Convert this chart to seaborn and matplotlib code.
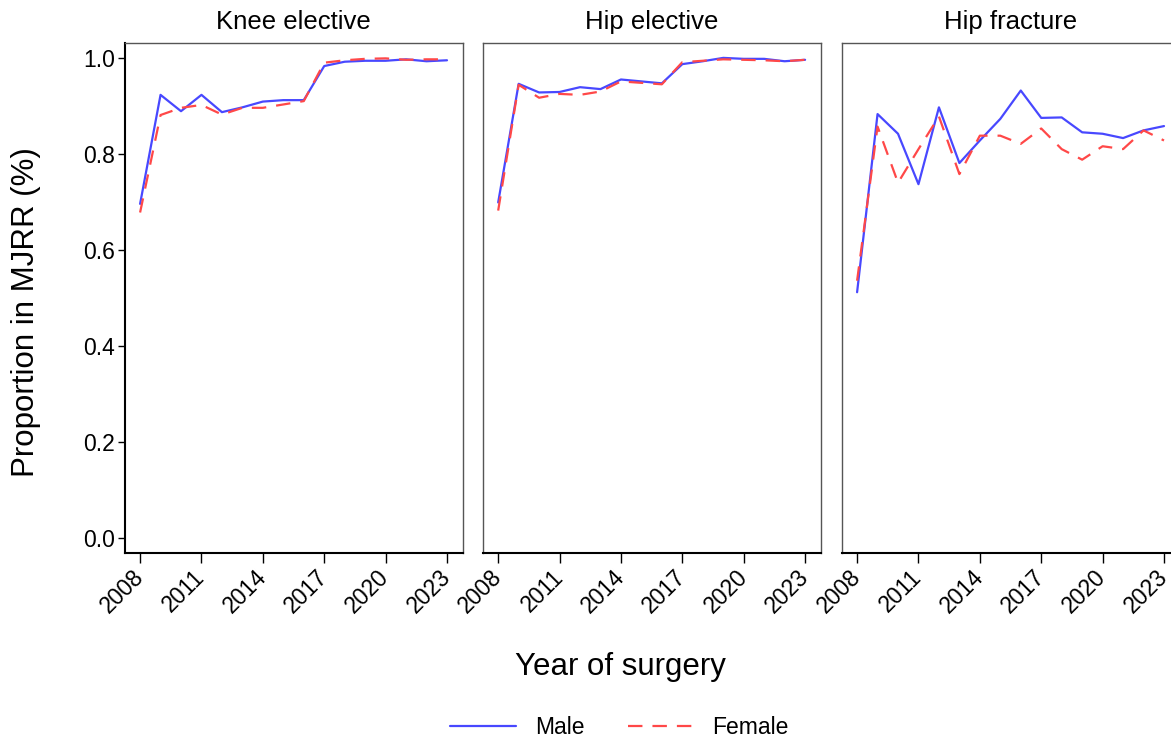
import pandas as pd
import numpy as np
import matplotlib
matplotlib.use('Agg')
import matplotlib.pyplot as plt
import seaborn as sns

# Values
years = list(range(2008, 2024))
panels = ['Knee elective', 'Hip elective', 'Hip fracture']

knee_male = [0.696, 0.923, 0.889, 0.923, 0.887, 0.897, 0.909, 0.912, 0.912,
             0.983, 0.992, 0.994, 0.994, 0.997, 0.993, 0.995]
knee_female = [0.678, 0.881, 0.896, 0.902, 0.882, 0.896, 0.896, 0.903, 0.910,
               0.990, 0.995, 0.998, 0.999, 0.996, 0.997, 0.997]
hip_male = [0.699, 0.946, 0.928, 0.929, 0.939, 0.935, 0.955, 0.951, 0.947,
            0.987, 0.993, 1.000, 0.998, 0.998, 0.993, 0.996]
hip_female = [0.682, 0.944, 0.917, 0.925, 0.923, 0.930, 0.951, 0.948, 0.945,
              0.991, 0.994, 0.997, 0.996, 0.995, 0.993, 0.996]
frac_male = [0.512, 0.883, 0.842, 0.737, 0.897, 0.781, 0.828, 0.873, 0.932,
             0.875, 0.876, 0.845, 0.842, 0.833, 0.849, 0.858]
frac_female = [0.536, 0.857, 0.740, 0.810, 0.878, 0.758, 0.838, 0.838, 0.821,
               0.853, 0.810, 0.788, 0.816, 0.810, 0.849, 0.828]

xticks = [2008, 2011, 2014, 2017, 2020, 2023]
yticks = [0.0, 0.2, 0.4, 0.6, 0.8, 1.0]

series = {
    'Knee elective': (knee_male, knee_female),
    'Hip elective': (hip_male, hip_female),
    'Hip fracture': (frac_male, frac_female),
}

rows = []
for p in panels:
    m, f = series[p]
    for y, v in zip(years, m):
        rows.append({'Panel': p, 'Year': y, 'Sex': 'Male', 'Proportion': v})
    for y, v in zip(years, f):
        rows.append({'Panel': p, 'Year': y, 'Sex': 'Female', 'Proportion': v})
df = pd.DataFrame(rows)

sns.set_style('white')
plt.rcParams['font.family'] = ['Liberation Sans', 'DejaVu Sans']
plt.rcParams['text.color'] = 'black'
plt.rcParams['xtick.color'] = 'black'
plt.rcParams['ytick.color'] = 'black'

fig = plt.figure(figsize=(11.71, 7.4), dpi=100)
lefts = [0.1067, 0.4125, 0.719]
width = 0.2883
bottom = 0.2527
height = 0.6892

palette = {'Male': '#4848ff', 'Female': '#ff4848'}
dashes = {'Male': '', 'Female': (6.5, 4.5)}

for i, p in enumerate(panels):
    ax = fig.add_axes([lefts[i], bottom, width, height])
    sns.lineplot(data=df[df['Panel'] == p], x='Year', y='Proportion',
                 hue='Sex', style='Sex', palette=palette, dashes=dashes,
                 linewidth=1.6, ax=ax, legend=False)
    ax.set_xlim(2007.26, 2023.76)
    ax.set_ylim(-0.031, 1.031)
    ax.set_xticks(xticks)
    ax.set_xticklabels([str(t) for t in xticks], rotation=45, ha='right', va='center',
                       rotation_mode='anchor', fontsize=16.5)
    ax.tick_params(axis='x', bottom=True, length=7, width=1, direction='out', pad=8)
    ax.set_title(p, fontsize=18.5, pad=10)
    ax.set_xlabel('')
    ax.set_ylabel('')
    for s in ax.spines.values():
        s.set_color('#555555')
        s.set_linewidth(1.0)
    ax.spines['bottom'].set_color('black')
    ax.spines['bottom'].set_linewidth(1.5)
    if i == 0:
        ax.set_yticks(yticks)
        ax.set_yticklabels([f'{t:.1f}' for t in yticks], fontsize=16.5)
        ax.tick_params(axis='y', left=True, length=5, width=1, direction='out', pad=2)
        ax.spines['left'].set_color('black')
        ax.spines['left'].set_linewidth(1.5)
    else:
        ax.set_yticks([])

fig.text(0.0226, 0.578, 'Proportion in MJRR (%)', rotation=90, fontsize=22.5,
         ha='center', va='center')
fig.text(0.530, 0.0878, 'Year of surgery', fontsize=22.5, ha='center', va='baseline')

handles = [plt.Line2D([], [], color=palette['Male'], lw=1.6),
           plt.Line2D([], [], color=palette['Female'], lw=1.6, dashes=(6.5, 4.5))]
fig.legend(handles, ['Male', 'Female'], loc='center', bbox_to_anchor=(0.529, 0.017),
           ncol=2, frameon=False, fontsize=16.5, handlelength=2.9,
           handletextpad=0.8, columnspacing=1.9, borderpad=0, borderaxespad=0)

fig.savefig('out.png', dpi=100)
